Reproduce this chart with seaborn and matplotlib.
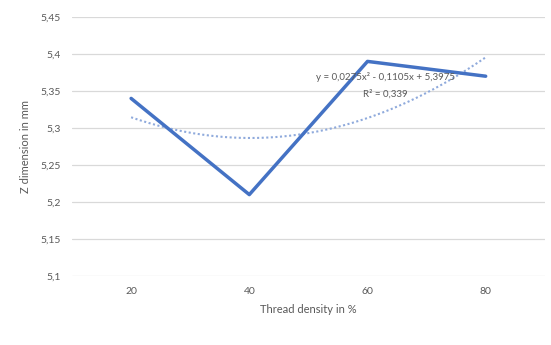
import numpy as np
import pandas as pd
import matplotlib
matplotlib.use("Agg")
import matplotlib.pyplot as plt
import seaborn as sns

categories = ["20", "40", "60", "80"]
z_values = [5.34, 5.21, 5.39, 5.37]
y_ticks = [5.1, 5.15, 5.2, 5.25, 5.3, 5.35, 5.4, 5.45]
y_tick_labels = ["5,1", "5,15", "5,2", "5,25", "5,3", "5,35", "5,4", "5,45"]
x_label = "Thread density in %"
y_label = "Z dimension in mm"

sns.set_theme(style="white")
plt.rcParams["font.family"] = ["Lato", "DejaVu Sans"]

df = pd.DataFrame({"pos": np.arange(len(categories)), "z": z_values})

fig = plt.figure(figsize=(5.51, 3.45), dpi=100)
ax = fig.add_axes([0.1307, 0.2, 0.858, 0.7507])

grid_c = "#d9d9d9"
text_c = "#595959"
blue = "#4472C4"

for t in y_ticks:
    ax.axhline(t, color=grid_c, lw=0.9, zorder=0)

sns.lineplot(data=df, x="pos", y="z", ax=ax, color=blue, lw=2.5, zorder=3)

# polynomial trendline (order 2), Excel style with x = 1..n
xi = np.arange(1, len(categories) + 1)
coef = np.polyfit(xi, z_values, 2)
xs = np.linspace(1, len(categories), 200)
ys = np.polyval(coef, xs)
ax.plot(xs - 1, ys, color="#8faadc", lw=1.5, ls=(0, (1, 1.2)), zorder=2)

pred = np.polyval(coef, xi)
ss_res = np.sum((np.array(z_values) - pred) ** 2)
ss_tot = np.sum((np.array(z_values) - np.mean(z_values)) ** 2)
r2 = 1 - ss_res / ss_tot
eq = "y = {:.4f}x² - {:.4f}x + {:.4f}".format(coef[0], -coef[1], coef[2]).replace(".", ",")
r2s = "R² = {:.3f}".format(r2).replace(".", ",")
ax.text(2.15, 5.369, eq, ha="center", va="center", fontsize=7, color=text_c, zorder=4)
ax.text(2.15, 5.3465, r2s, ha="center", va="center", fontsize=7, color=text_c, zorder=4)

ax.set_xlim(-0.5, len(categories) - 0.5)
ax.set_ylim(5.1, 5.45)
ax.set_xticks(np.arange(len(categories)))
ax.set_xticklabels(categories)
ax.set_yticks(y_ticks)
ax.set_yticklabels(y_tick_labels)
ax.tick_params(axis="both", length=0, labelsize=7.5, labelcolor=text_c, pad=8)
ax.tick_params(axis="x", pad=8)
ax.set_xlabel(x_label, fontsize=8, color=text_c, labelpad=6)
ax.set_ylabel(y_label, fontsize=8, color=text_c, labelpad=7)
for s in ax.spines.values():
    s.set_visible(False)

fig.savefig("out.png", dpi=100)
